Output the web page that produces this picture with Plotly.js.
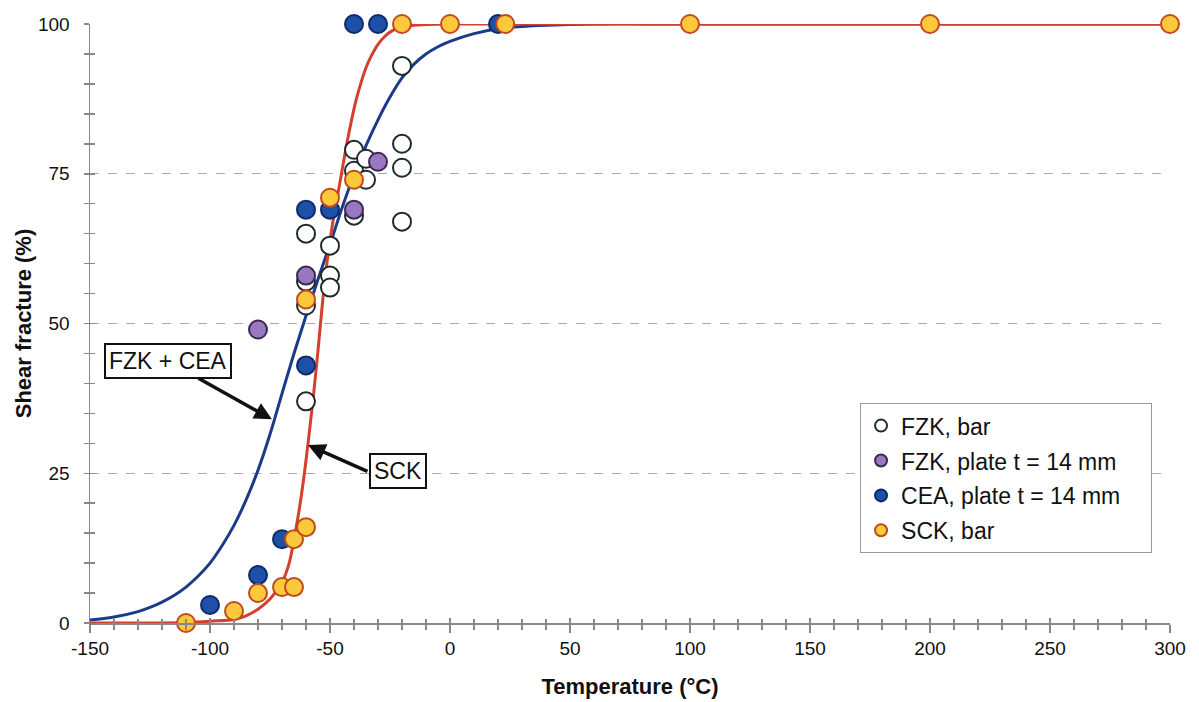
<!DOCTYPE html>
<html>
<head>
<meta charset="utf-8">
<script src="https://cdn.plot.ly/plotly-3.0.1.min.js"></script>
<style>html,body{margin:0;padding:0;background:#fff;}#chart{width:1199px;height:702px;}</style>
</head>
<body>
<div id="chart"></div>
<script>
// Fitted curves
const fitAllT = [-150,-140,-130,-125,-120,-115,-110,-105,-100,-95,-90,-85,-80,-75,-70,-65,-60,-55,-50,-45,-40,-35,-30,-25,-20,-15,-10,-5,0,10,20,30,40,60,100,200,300];
const fitAllY = [0.5,1.0,1.9,2.6,3.5,4.6,6.0,7.8,10.0,12.9,16.3,20.5,25.5,31.5,38.3,45.0,51.3,57.4,63.2,69.3,74.8,79.7,84,87.8,91,93.3,95,96.2,97.1,98.4,99.2,99.6,99.8,100,100,100,100];
const fitSckT = [-150,-130,-110,-100,-90,-85,-80,-75,-70,-67,-65,-63,-61,-59,-57,-55,-53,-51,-49,-47,-45,-43,-41,-39,-37,-35,-33,-30,-27,-24,-20,-15,-10,0,20,50,100,200,300];
const fitSckY = [0,0,0.1,0.3,0.6,1.2,2.3,4.0,6.8,10,14,18.5,24,30.5,37.5,45.5,54,61,66.5,71,75.5,80,84,87.5,90.3,92.7,94.5,96.6,98,98.9,99.5,99.8,99.9,100,100,100,100,100,100];

// Measured data
const fzkBarT = [-60,-60,-60,-60,-50,-50,-50,-40,-40,-40,-35,-35,-20,-20,-20,-20];
const fzkBarY = [65,57,53,37,63,58,56,79,75.5,68,77.5,74,93,80,76,67];
const fzkPlateT = [-80,-60,-40,-30];
const fzkPlateY = [49,58,69,77];
const ceaPlateT = [-100,-80,-70,-60,-60,-50,-40,-30,20];
const ceaPlateY = [3,8,14,43,69,69,100,100,100];
const sckBarT = [-110,-90,-80,-70,-65,-65,-60,-60,-50,-40,-20,0,23,100,200,300];
const sckBarY = [0,2,5,6,6,14,16,54,71,74,100,100,100,100,100,100];

// Axis tick labels
const xTickVals = [-150,-100,-50,0,50,100,150,200,250,300];
const xTickText = ['-150','-100','-50','0','50','100','150','200','250','300'];
const yTickVals = [0,25,50,75,100];
const yTickText = ['0','25','50','75','100'];

const seriesNames = ['FZK, bar','FZK, plate t = 14 mm','CEA, plate t = 14 mm','SCK, bar'];
const curveNames = ['FZK + CEA','SCK'];

const FONT = 'Liberation Sans, Arial, sans-serif';
const PAD = '\u00a0\u00a0\u00a0\u00a0';

function mk(t, y, name, fill, line, grp){
  return {x:t, y:y, name:name + PAD, type:'scatter', mode:'markers', cliponaxis:false,
    legendgroup:grp,
    marker:{size:18, color:fill, line:{color:line, width:2}}};
}

const traces = [
  {x:fitAllT, y:fitAllY, type:'scatter', mode:'lines', line:{color:'#1c3a8a', width:3, shape:'spline', smoothing:1}, showlegend:false, hoverinfo:'skip', name:curveNames[0]},
  {x:fitSckT, y:fitSckY, type:'scatter', mode:'lines', line:{color:'#d4402c', width:3, shape:'spline', smoothing:1}, showlegend:false, hoverinfo:'skip', name:curveNames[1]},
  mk(fzkBarT, fzkBarY, seriesNames[0], '#ffffff', '#1e2b2b', 'g1'),
  mk(fzkPlateT, fzkPlateY, seriesNames[1], '#9878c0', '#3c2850', 'g2'),
  mk(ceaPlateT, ceaPlateY, seriesNames[2], '#1e50a8', '#0c2a6e', 'g3'),
  mk(sckBarT, sckBarY, seriesNames[3], '#fcc83c', '#c04a1c', 'g4')
];

const layout = {
  width:1199, height:702,
  margin:{l:90, r:29, t:24, b:79},
  paper_bgcolor:'#ffffff', plot_bgcolor:'#ffffff',
  font:{family:FONT, color:'#111'},
  showlegend:true,
  legend:{x:0.713, y:0.367, xanchor:'left', yanchor:'top', bgcolor:'#ffffff', bordercolor:'#999', borderwidth:1,
    font:{size:23, family:FONT, color:'#111'}, tracegroupgap:2, traceorder:'grouped', itemsizing:'constant'},
  xaxis:{range:[-150,300], tickmode:'array', tickvals:xTickVals, ticktext:xTickText, showgrid:false, zeroline:false,
    showline:true, linecolor:'#888', linewidth:1.5,
    ticks:'outside', ticklen:8, tickcolor:'#888', tickwidth:1.5, ticklabelstandoff:0,
    minor:{dtick:10, tick0:0, ticks:'outside', ticklen:5, tickcolor:'#888', showgrid:false},
    tickfont:{size:19, family:FONT, color:'#111'},
    title:{text:'<b>Temperature (°C)</b>', font:{size:22, family:FONT, color:'#111'}, standoff:20}},
  yaxis:{range:[0,100], tickmode:'array', tickvals:yTickVals, ticktext:yTickText, showgrid:true, gridcolor:'#aaa', griddash:'dash', gridwidth:1, zeroline:false,
    showline:true, linecolor:'#888', linewidth:1.5,
    ticks:'outside', ticklen:5, tickcolor:'#888', tickwidth:1.5, ticklabelstandoff:10,
    minor:{dtick:5, tick0:0, ticks:'outside', ticklen:5, tickcolor:'#888', showgrid:false},
    tickfont:{size:19, family:FONT, color:'#111'},
    title:{text:'<b>Shear fracture (%)</b>', font:{size:22, family:FONT, color:'#111'}, standoff:0}},
  xaxis2:{overlaying:'x', range:[-150,300], dtick:50, tick0:0, showgrid:false, zeroline:false, showline:false,
    showticklabels:false, ticks:'inside', ticklen:5, tickcolor:'#888', tickwidth:1.5, side:'bottom',
    minor:{dtick:10, ticks:'inside', ticklen:4, tickcolor:'#888', showgrid:false}},
  yaxis2:{overlaying:'y', range:[0,100], dtick:25, showgrid:false, zeroline:false, showline:false,
    showticklabels:false, ticks:'inside', ticklen:5, tickcolor:'#888', tickwidth:1.5, side:'left',
    minor:{dtick:5, ticks:'inside', ticklen:5, tickcolor:'#888', showgrid:false}},
  annotations:[
    {x:-117.7, y:43.8, xref:'x', yref:'y', text:curveNames[0], showarrow:false,
      font:{size:23, family:FONT, color:'#111'}, bgcolor:'#ffffff', bordercolor:'#111', borderwidth:2, borderpad:3},
    {x:-74.2, y:34, xref:'x', yref:'y', ax:-75, ay:-42, text:' ', font:{size:1},
      showarrow:true, arrowhead:2, arrowsize:1, arrowwidth:3.5, arrowcolor:'#111', standoff:0, startstandoff:0},
    {x:-21.5, y:25.3, xref:'x', yref:'y', text:curveNames[1], showarrow:false,
      font:{size:23, family:FONT, color:'#111'}, bgcolor:'#ffffff', bordercolor:'#111', borderwidth:2, borderpad:3},
    {x:-59.2, y:29.7, xref:'x', yref:'y', ax:61, ay:27, text:' ', font:{size:1},
      showarrow:true, arrowhead:2, arrowsize:1, arrowwidth:3.5, arrowcolor:'#111', standoff:0, startstandoff:0}
  ]
};

// invisible helper trace so the overlay tick axes are drawn
traces.push({x:[-150], y:[0], xaxis:'x2', yaxis:'y2', type:'scatter', mode:'markers', marker:{opacity:0}, showlegend:false, hoverinfo:'skip'});

Plotly.newPlot('chart', traces, layout, {displayModeBar:false, staticPlot:true});
</script>
</body>
</html>
